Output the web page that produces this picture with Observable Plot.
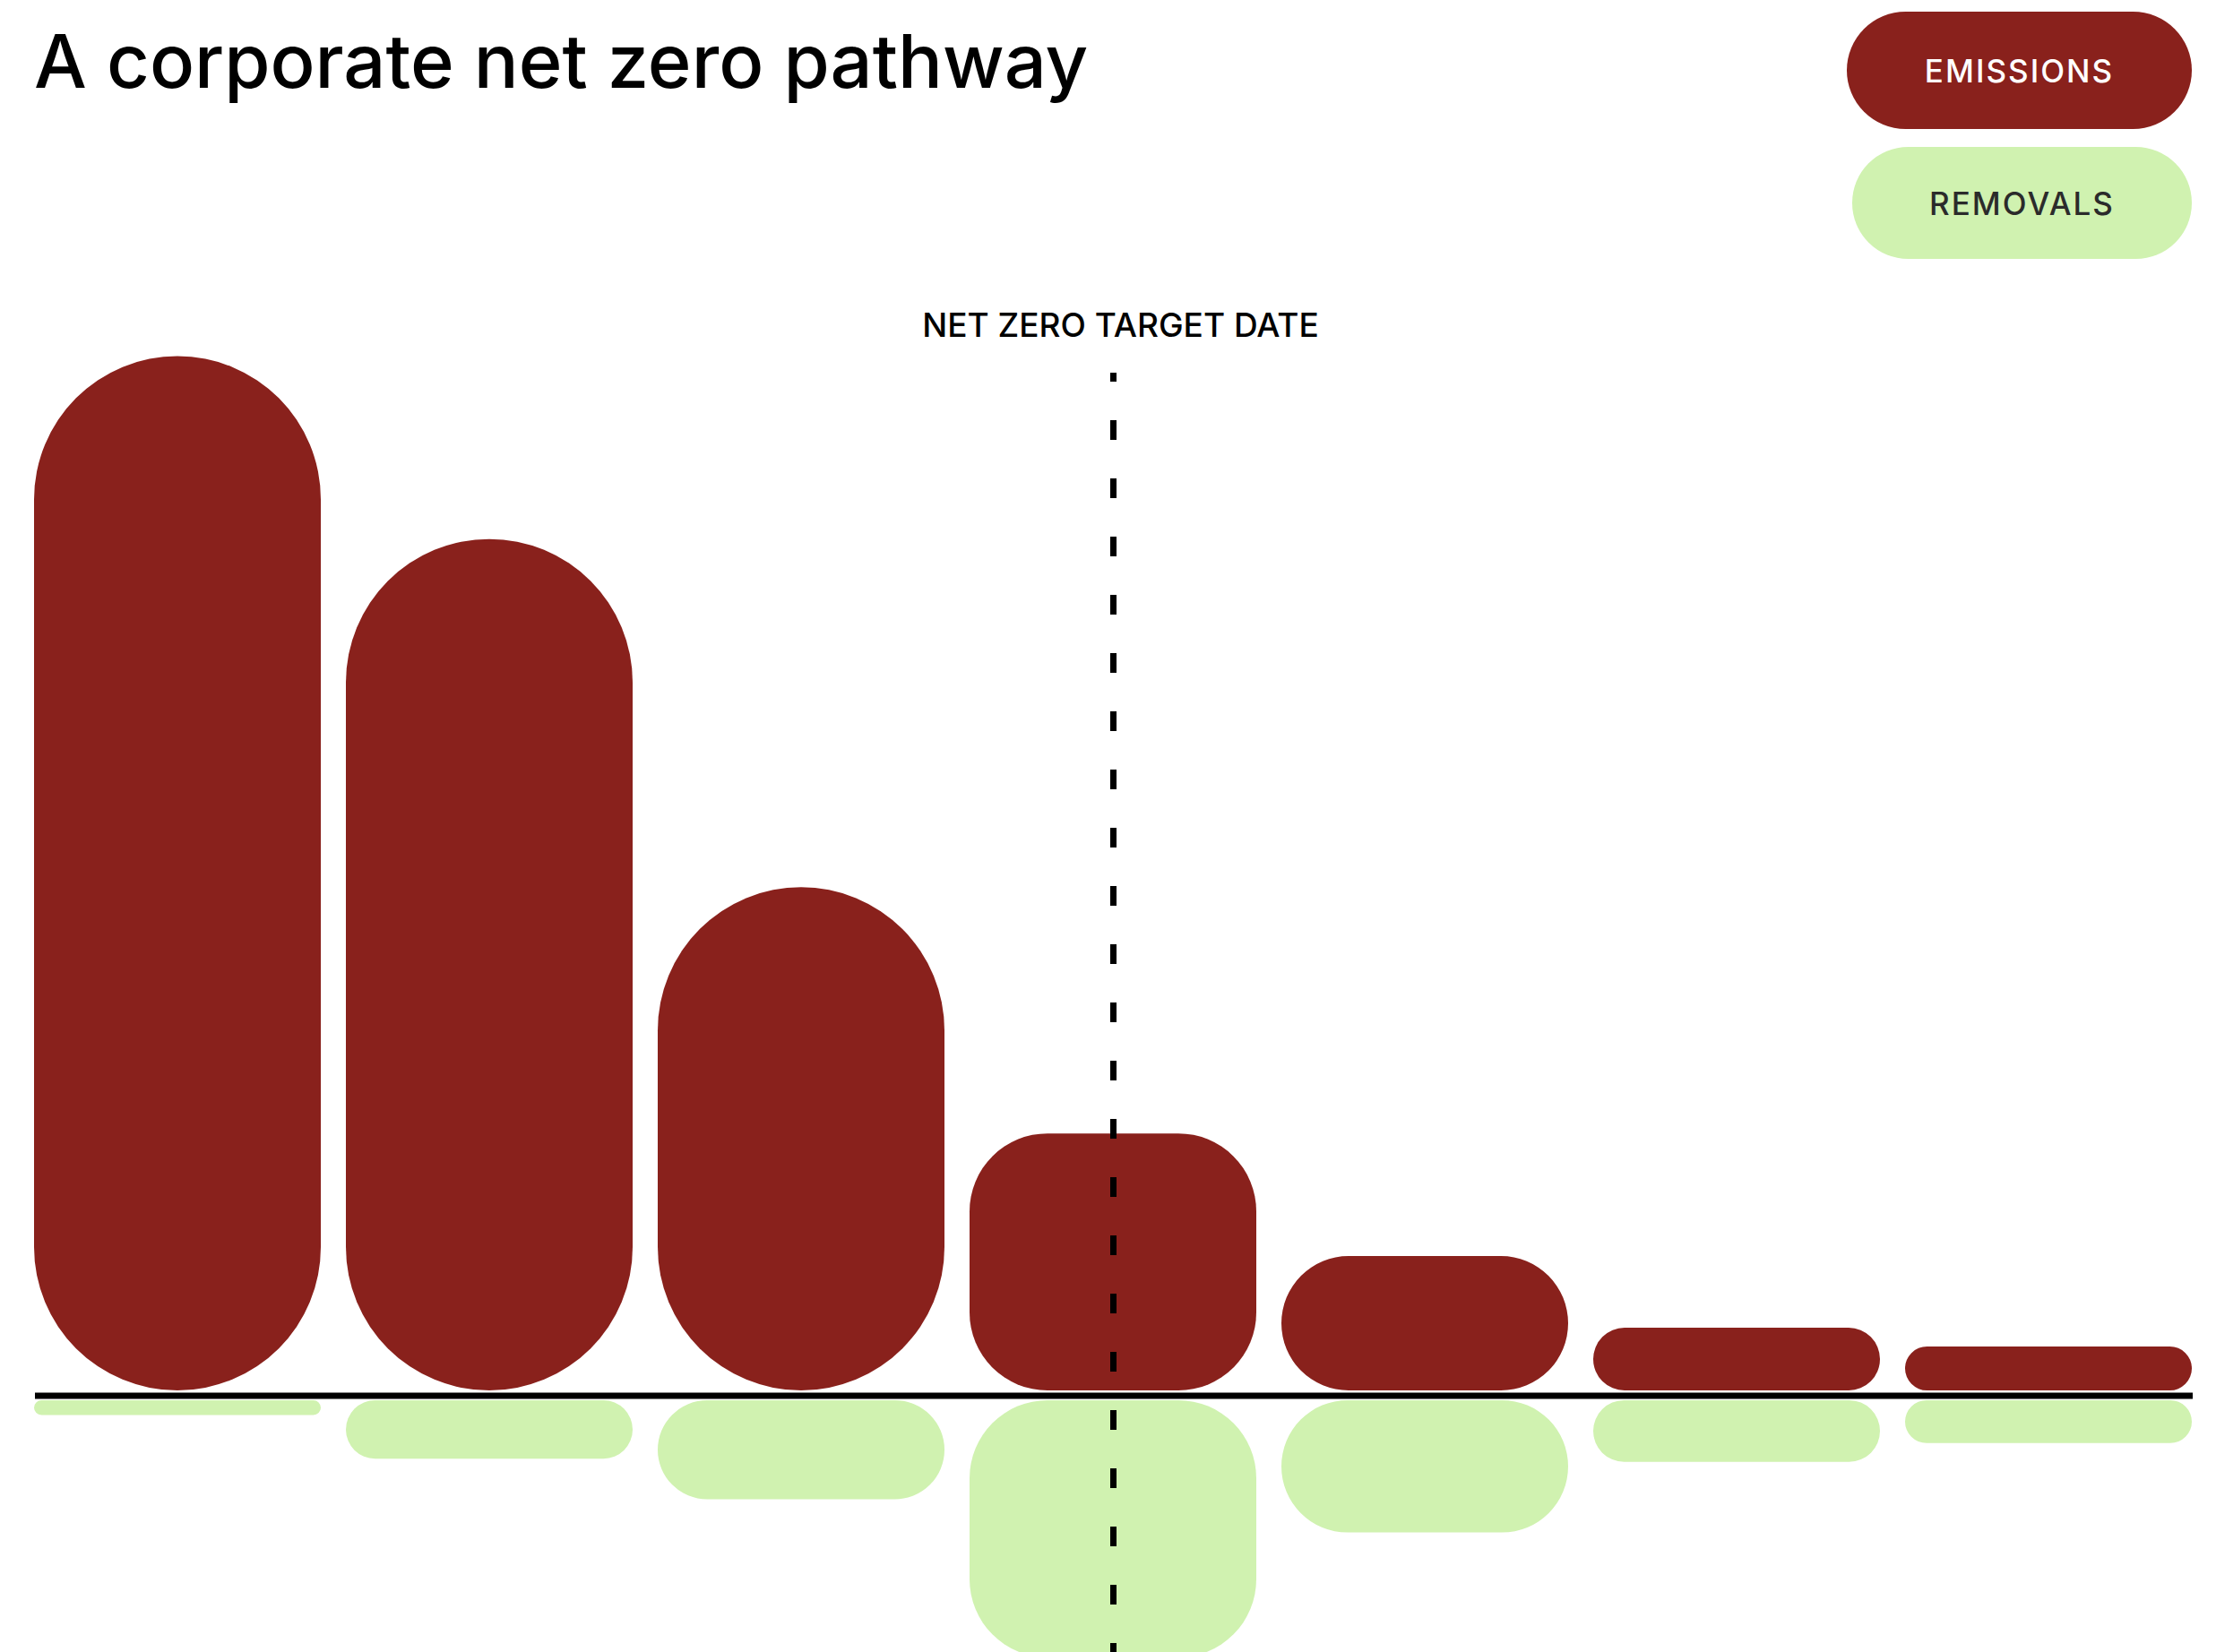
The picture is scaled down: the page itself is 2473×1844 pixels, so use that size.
<!DOCTYPE html>
<html>
<head>
<meta charset="utf-8">
<script src="https://cdn.jsdelivr.net/npm/d3@7"></script>
<script src="https://cdn.jsdelivr.net/npm/@observablehq/plot@0.6"></script>
<style>
  html, body { margin: 0; padding: 0; background: #ffffff; }
  body { width: 2473px; height: 1844px; position: relative; overflow: hidden; font-family: Inter, "Noto Sans", sans-serif; }
  #title { position: absolute; left: 38px; top: 27px; font-size: 83px; line-height: 1; font-weight: 500; color: #000; letter-spacing: 0; white-space: nowrap; }
  .pill { position: absolute; display: flex; align-items: center; justify-content: center; border-radius: 9999px; font-size: 35px; font-weight: 500; letter-spacing: 2px; }
  #chart { position: absolute; left: 0; top: 0; }
</style>
</head>
<body>
<div id="chart"></div>
<div id="title"></div>
<div id="legend"></div>
<script>
// ---- data ----
const stages = ["Stage 1", "Stage 2", "Stage 3", "Stage 4", "Stage 5", "Stage 6", "Stage 7"];
const emissions = [100, 82.4, 48.9, 25.2, 13.4, 6.5, 4.7];
const removals = [1.9, 6.1, 10.0, 25.2, 13.2, 6.4, 4.6];
const targetStage = "Stage 4";
const targetLabel = "NET ZERO TARGET DATE";
const targetLineTop = 98.4;
const targetLineBottom = -30;
const targetLabelY = 102.9;
const titleText = "A corporate net zero pathway";
const seriesNames = ["EMISSIONS", "REMOVALS"];
const seriesColors = ["#89211c", "#d0f2b0"];
const seriesTextColors = ["#ffffff", "#2b2b2b"];

const data = stages.map((s, i) => ({stage: s, emissions: emissions[i], removals: removals[i]}));

// ---- title & legend ----
document.getElementById("title").textContent = titleText;
const legend = document.getElementById("legend");
const pillBoxes = [
  {left: 2061, top: 13, width: 385, height: 131},
  {left: 2067, top: 164, width: 379, height: 125}
];
seriesNames.forEach((name, i) => {
  const d = document.createElement("div");
  d.className = "pill";
  const b = pillBoxes[i];
  Object.assign(d.style, {left: b.left + "px", top: b.top + "px", width: b.width + "px", height: b.height + "px",
    background: seriesColors[i], color: seriesTextColors[i]});
  d.textContent = name;
  legend.appendChild(d);
});

// ---- chart ----
const notTarget = data.map(d => d.stage !== targetStage);
const isTarget = data.map(d => d.stage === targetStage);

const chart = Plot.plot({
  width: 2473,
  height: 1844,
  marginLeft: 39,
  marginRight: 26,
  marginTop: 0,
  marginBottom: 0,
  style: {fontFamily: "Inter, 'Noto Sans', sans-serif", background: "transparent"},
  x: {domain: stages, range: [38, 2447], paddingInner: 0.08, paddingOuter: 0, axis: null},
  y: {domain: [0, 100], range: [1557.5, 397.5], axis: null},
  marks: [
    Plot.barY(data, {x: "stage", y: "emissions", fill: seriesColors[0], insetBottom: 5.5, r: 1000, filter: notTarget}),
    Plot.barY(data, {x: "stage", y: "emissions", fill: seriesColors[0], insetBottom: 5.5, r: 87, filter: isTarget}),
    Plot.barY(data, {x: "stage", y: d => -d.removals, fill: seriesColors[1], insetTop: 5.5, r: 1000, filter: notTarget}),
    Plot.barY(data, {x: "stage", y: d => -d.removals, fill: seriesColors[1], insetTop: 5.5, r: 87, filter: isTarget}),
    Plot.ruleY([0], {stroke: "#000", strokeWidth: 7}),
    Plot.ruleX([targetStage], {x: d => d, y1: targetLineTop, y2: targetLineBottom, stroke: "#000", strokeWidth: 7,
      strokeDasharray: "22,43", strokeDashoffset: 12}),
    Plot.text([targetLabel], {x: () => targetStage, y: targetLabelY, text: d => d, fontSize: 37, fontWeight: 500,
      fill: "#000", textAnchor: "middle", dx: 8, lineAnchor: "middle"})
  ]
});
document.getElementById("chart").appendChild(chart);
</script>
</body>
</html>
